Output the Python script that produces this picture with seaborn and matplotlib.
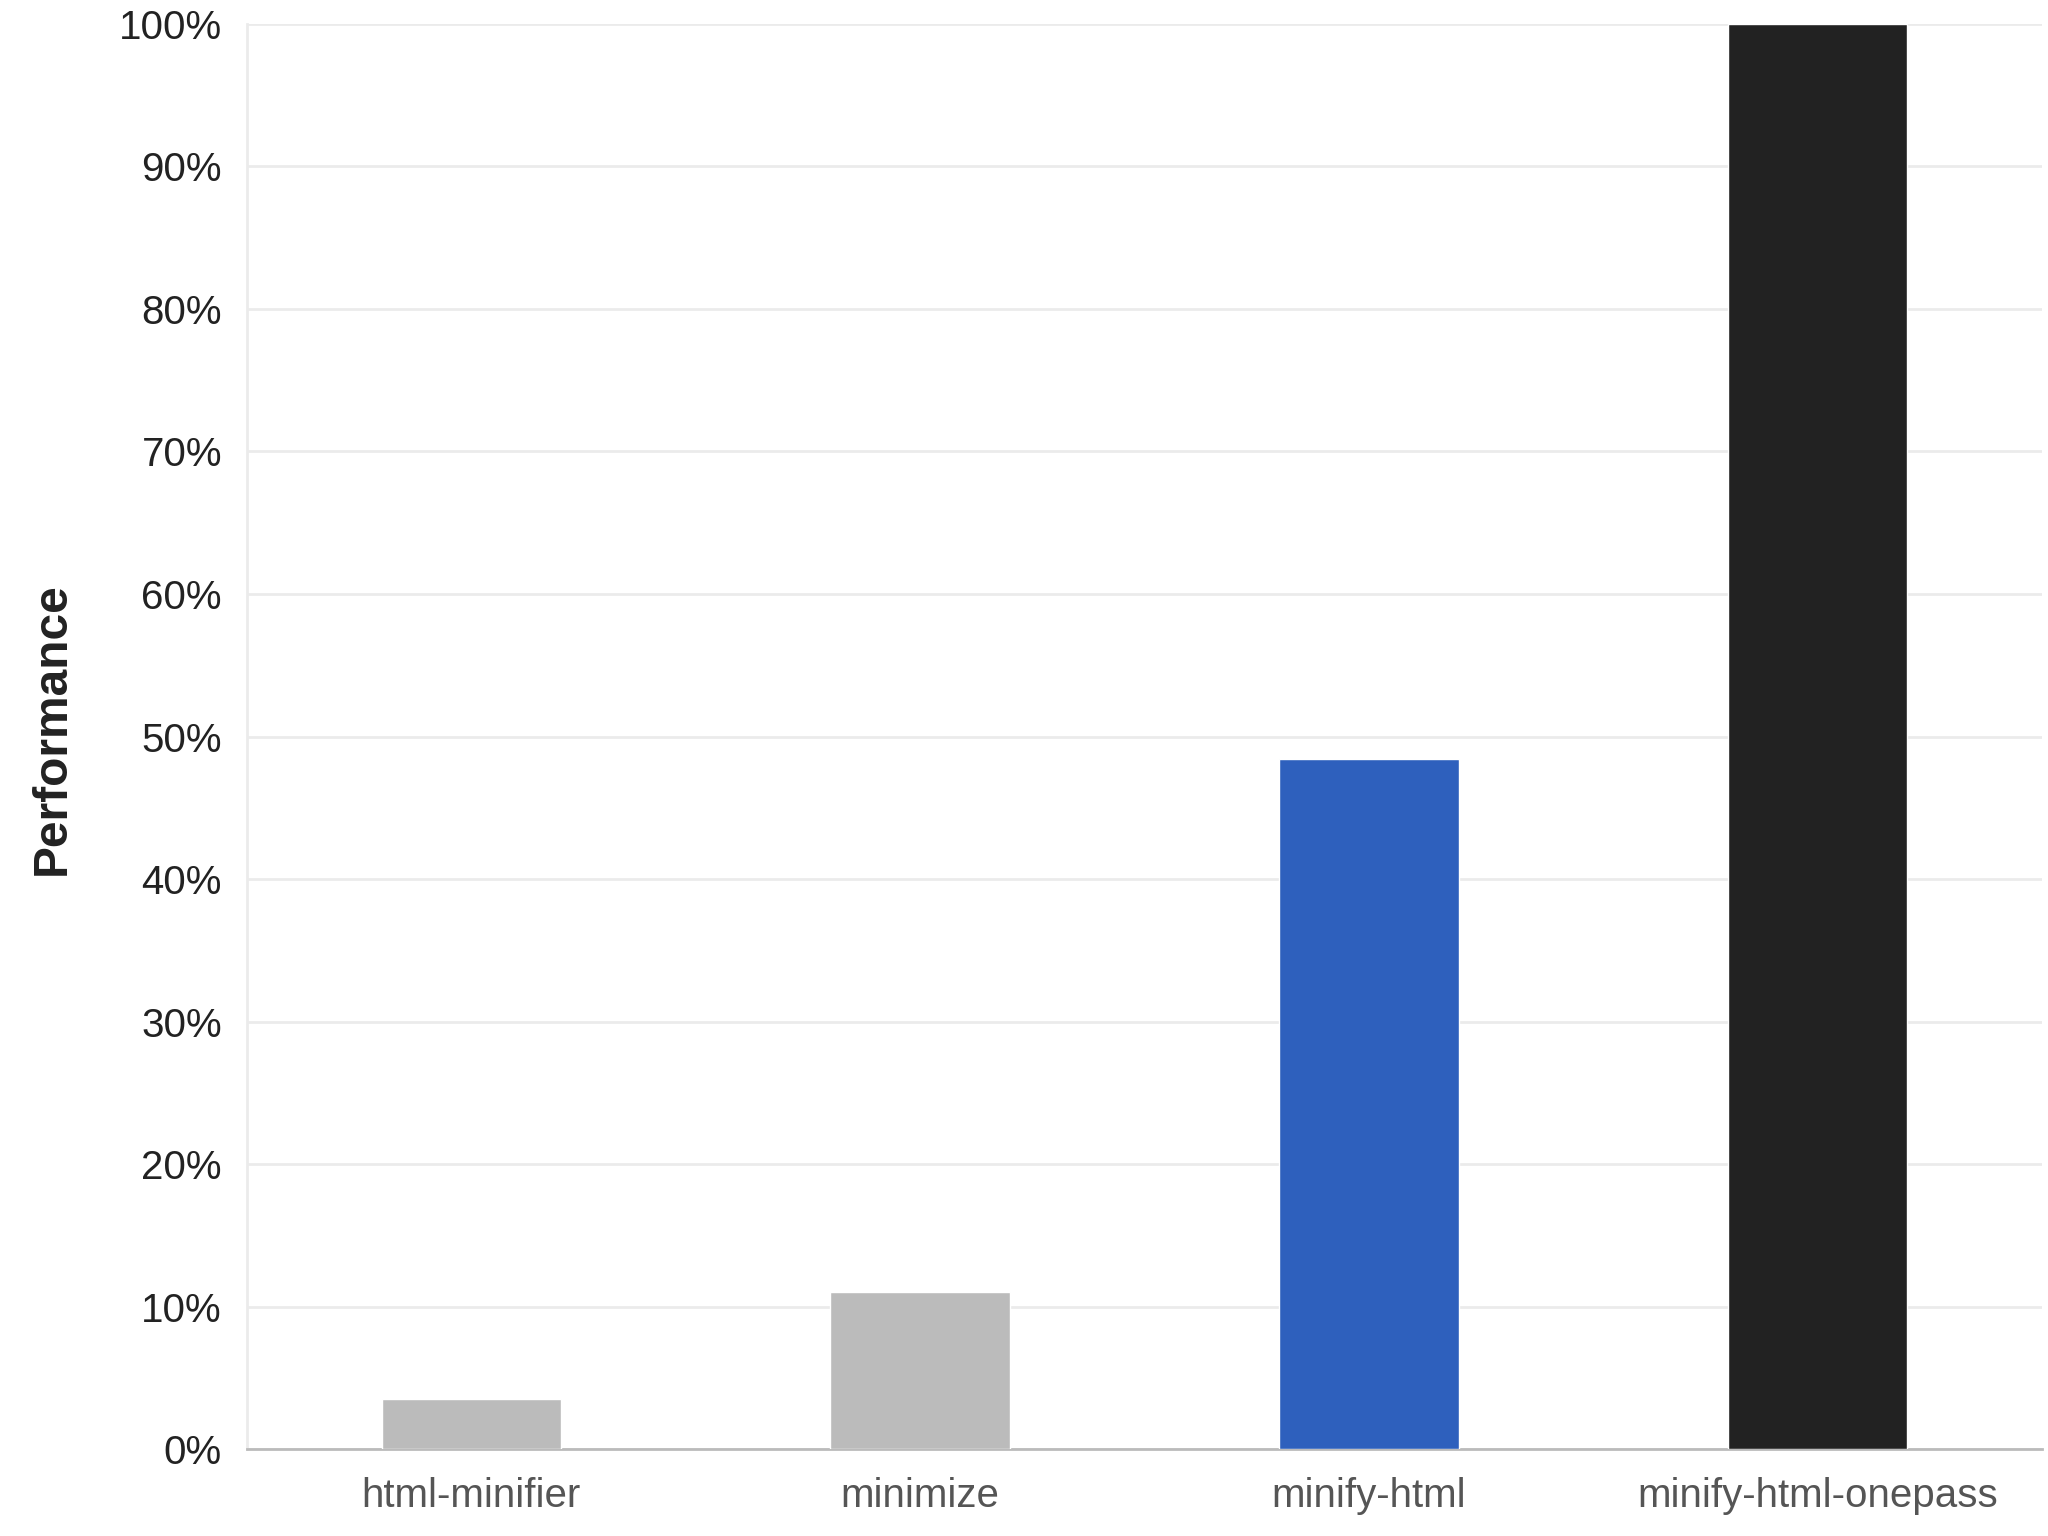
import matplotlib
matplotlib.use("Agg")
import pandas as pd
import seaborn as sns
import matplotlib.pyplot as plt
from matplotlib.ticker import PercentFormatter

minifiers = ["html-minifier", "minimize", "minify-html", "minify-html-onepass"]
performance = [3.5, 11.0, 48.4, 100.0]
bar_colors = ["#bbbbbb", "#bbbbbb", "#2e60bd", "#222222"]

df = pd.DataFrame({"minifier": minifiers, "performance": performance})

sns.set_theme(style="white")
plt.rcParams['font.family'] = ['Liberation Sans', 'DejaVu Sans']

fig = plt.figure(figsize=(20.48, 15.36), dpi=100)
ax = fig.add_axes([0.1206, 0.0566, 0.997 - 0.1206, 0.9844 - 0.0566])

sns.barplot(data=df, x="minifier", y="performance", hue="minifier",
            palette=bar_colors, legend=False, width=0.4, saturation=1,
            ax=ax, zorder=3)

ax.set_xlim(-0.5, 3.5)
ax.set_ylim(0, 100)
ax.set_yticks(range(0, 101, 10))
ax.yaxis.set_major_formatter(PercentFormatter(decimals=0))
ax.grid(axis="y", color="#ebebeb", linewidth=2, zorder=0)

for side in ["top", "right"]:
    ax.spines[side].set_visible(False)
ax.spines["left"].set_color("#ebebeb")
ax.spines["left"].set_linewidth(2)
ax.spines["bottom"].set_color("#bbbbbb")
ax.spines["bottom"].set_linewidth(2)

ax.tick_params(axis="y", length=14, width=2, color="#ebebeb",
               labelsize=29, labelcolor="#222222", pad=4)
ax.tick_params(axis="x", length=0, labelsize=29, labelcolor="#555555", pad=20)

ax.set_xlabel("")
ax.set_ylabel("Performance", fontsize=34.5, fontweight="bold", color="#222222")
ax.yaxis.set_label_coords(-0.096, 0.5055)

plt.savefig("out.png", dpi=100)
